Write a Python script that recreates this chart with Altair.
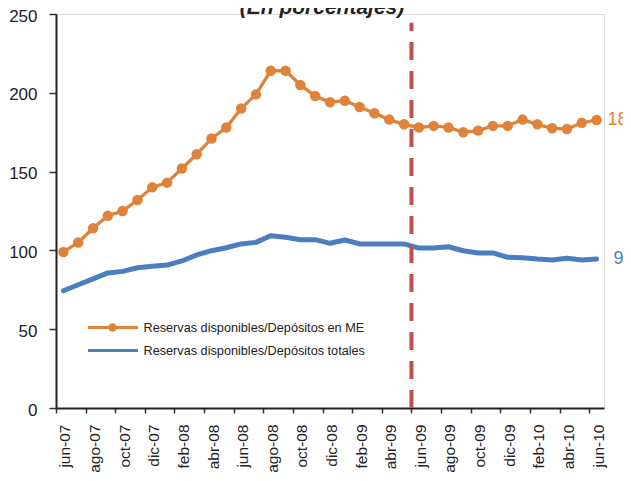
import altair as alt
import pandas as pd

months = ["jun-07", "jul-07", "ago-07", "sep-07", "oct-07", "nov-07", "dic-07",
          "ene-08", "feb-08", "mar-08", "abr-08", "may-08", "jun-08", "jul-08",
          "ago-08", "sep-08", "oct-08", "nov-08", "dic-08", "ene-09", "feb-09",
          "mar-09", "abr-09", "may-09", "jun-09", "jul-09", "ago-09", "sep-09",
          "oct-09", "nov-09", "dic-09", "ene-10", "feb-10", "mar-10", "abr-10",
          "may-10", "jun-10"]

reservas_me = [99, 105, 114, 122, 125, 132, 140, 143, 152, 161, 171, 178, 190,
               199, 214, 214, 205, 198, 194, 195, 191, 187, 183, 180, 178, 179,
               178, 175, 176, 179, 179, 183, 180, 177.5, 177, 181, 182.7]

reservas_tot = [74.4, 78.2, 81.9, 85.7, 86.7, 89.0, 89.9, 90.7, 93.3, 97.1, 99.8,
                101.7, 104.1, 105.1, 109.3, 108.3, 106.8, 106.8, 104.5, 106.6,
                104.1, 104.1, 104.1, 104.1, 101.5, 101.5, 102.3, 99.8, 98.4, 98.4,
                95.6, 95.4, 94.5, 93.9, 95.0, 93.9, 94.6]

series_names = ["Reservas disponibles/Depósitos en ME",
                "Reservas disponibles/Depósitos totales"]
title_text = "(En porcentajes)"
break_after = "may-09"
y_ticks = [0, 50, 100, 150, 200, 250]

ORANGE = "#E0833A"
BLUE = "#4A7EBF"
RED = "#C0504D"
TXT = "#222222"
FONT = "Liberation Sans"

n = len(months)
idx = list(range(n))
df_me = pd.DataFrame({"idx": idx, "month": months, "value": reservas_me,
                      "series": series_names[0]})
df_tot = pd.DataFrame({"idx": idx, "month": months, "value": reservas_tot,
                       "series": series_names[1]})
break_pos = months.index(break_after) + 0.5
df_break = pd.DataFrame({"idx": [break_pos], "value": [0], "top": [244.5]})
df_end_me = df_me.tail(1)
df_end_tot = df_tot.tail(1)
df_leg_me = pd.DataFrame({"label": [series_names[0]]})
df_leg_tot = pd.DataFrame({"label": [series_names[1]]})
df_title = pd.DataFrame({"t": [title_text]})

# tick marks at category boundaries, labels every second month
tick_vals = [i - 0.5 for i in range(0, n, 2)]
lab_arr = "[" + ",".join("'%s'" % m for m in months) + "]"
label_expr = lab_arr + "[round(datum.value + 0.5)]"

W, H = 548, 394
PX_PER_CAT = W / float(n)

x_axis = alt.Axis(values=tick_vals, title=None, grid=False,
                  labelExpr=label_expr, labelAngle=-90,
                  labelAlign="right", labelBaseline="middle",
                  labelOffset=PX_PER_CAT / 2 + 1.5,
                  labelFontSize=15.5, labelFont=FONT, labelColor=TXT,
                  labelPadding=11, labelFlush=False, labelOverlap=False,
                  labelBound=False,
                  tickSize=5, tickWidth=1.5, tickColor="#333333",
                  domainColor=TXT, domainWidth=2)
y_axis = alt.Axis(values=y_ticks, title=None, grid=False,
                  labelFontSize=17, labelFont=FONT, labelColor=TXT,
                  labelPadding=12, labelOffset=2, labelFlush=False,
                  labelOverlap=False,
                  tickSize=7, tickWidth=1.5, tickColor="#333333",
                  domainColor=TXT, domainWidth=2)
x_scale = alt.Scale(domain=[-0.5, n - 0.5], nice=False, zero=False)
y_scale = alt.Scale(domain=[0, 250], nice=False, zero=True)


def X():
    return alt.X("idx:Q", scale=x_scale, axis=x_axis)


def Y():
    return alt.Y("value:Q", scale=y_scale, axis=y_axis)


line_tot = alt.Chart(df_tot).mark_line(color=BLUE, strokeWidth=5, strokeCap="round",
                                       strokeJoin="round").encode(x=X(), y=Y())
line_me = alt.Chart(df_me).mark_line(color=ORANGE, strokeWidth=3.3).encode(
    x=X(), y=Y())
pts_me = alt.Chart(df_me).mark_circle(color=ORANGE, size=110, opacity=1).encode(
    x=X(), y=Y())

rule_break = alt.Chart(df_break).mark_rule(color=RED, strokeWidth=4,
                                           strokeDash=[18, 11]).encode(
    x=X(), y=Y(), y2="top:Q")

end_me = alt.Chart(df_end_me).mark_text(align="left", baseline="middle", dx=11,
                                        fontSize=18, font=FONT, color=ORANGE).encode(
    x=X(), y=Y(), text=alt.Text("value:Q", format=".0f"))
end_tot = alt.Chart(df_end_tot).mark_text(align="left", baseline="middle", dx=17,
                                          fontSize=18, font=FONT, color=BLUE).encode(
    x=X(), y=Y(), text=alt.Text("value:Q", format=".0f"))

# legend (drawn in pixel space of the plot area)
LEG_Y1, LEG_Y2 = 313.5, 336.5
leg_line_me = alt.Chart(df_leg_me).mark_rule(color=ORANGE, strokeWidth=3).encode(
    x=alt.value(32), x2=alt.value(82), y=alt.value(LEG_Y1))
leg_pt_me = alt.Chart(df_leg_me).mark_circle(color=ORANGE, size=70, opacity=1).encode(
    x=alt.value(56.5), y=alt.value(LEG_Y1))
leg_line_tot = alt.Chart(df_leg_tot).mark_rule(color=BLUE, strokeWidth=3).encode(
    x=alt.value(32), x2=alt.value(82), y=alt.value(LEG_Y2))
leg_text_me = alt.Chart(df_leg_me).mark_text(align="left", baseline="middle",
                                             fontSize=12.7, font=FONT, color=TXT).encode(
    x=alt.value(87.5), y=alt.value(LEG_Y1), text="label:N")
leg_text_tot = alt.Chart(df_leg_tot).mark_text(align="left", baseline="middle",
                                               fontSize=12.7, font=FONT, color=TXT).encode(
    x=alt.value(87.5), y=alt.value(LEG_Y2), text="label:N")

title = alt.Chart(df_title).mark_text(align="center", baseline="alphabetic",
                                      fontSize=21, font=FONT, fontWeight="bold",
                                      fontStyle="italic", color=TXT).encode(
    x=alt.value(266), y=alt.value(0), text="t:N")

chart = alt.layer(
    line_tot, line_me, pts_me, rule_break, end_me, end_tot,
    leg_line_me, leg_pt_me, leg_line_tot, leg_text_me, leg_text_tot, title
).properties(
    width=W, height=H,
    autosize=alt.AutoSizeParams(type="none"),
    padding={"left": 48, "top": 6, "right": 19, "bottom": 65},
).configure_view(stroke=None).configure(background="white")

chart.save("out.html", embed_options={"renderer": "svg", "actions": False})
